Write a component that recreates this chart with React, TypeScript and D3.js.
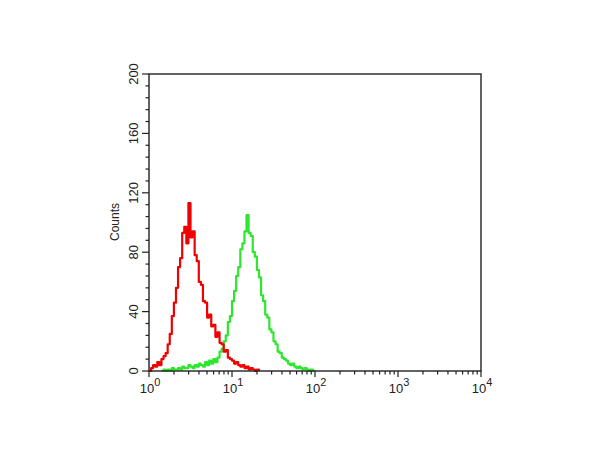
import React, { useEffect, useRef } from 'react';
import * as d3 from 'd3';

// histogram bins in log10 units, 0.025 decade wide
const binWidth = 0.025;
const redStart = 0.0;
const redCounts = [
  0, 2, 4, 3, 6, 4, 8, 10, 12, 18, 25, 37, 46, 56, 70, 76, 93, 97, 86, 113,
  90, 94, 78, 74, 60, 58, 47, 46, 36, 38, 30, 31, 23, 26, 19, 18, 13, 14, 9, 8,
  7, 5, 6, 4, 3, 4, 2, 3, 1, 2, 1, 0, 1, 0,
];
const greenStart = 0.15;
const greenCounts = [
  0, 1, 0, 1, 0, 2, 1, 1, 2, 1, 3, 2, 2, 4, 3, 2, 4, 3, 5, 4,
  3, 6, 4, 7, 5, 8, 6, 9, 13, 15, 20, 24, 33, 37, 47, 54, 64, 70, 82, 86,
  94, 105, 93, 91, 80, 77, 68, 63, 51, 47, 38, 36, 28, 26, 20, 18, 13, 12, 9, 8,
  7, 5, 4, 5, 3, 2, 3, 2, 1, 2, 1, 0, 1, 0, 0,
];
const yMajorTicks = [0, 40, 80, 120, 160, 200];
const xDecades = [0, 1, 2, 3, 4];

const App: React.FC = () => {
  const svgRef = useRef<SVGSVGElement>(null);

  useEffect(() => {
    if (!svgRef.current) return;
    const svg = d3.select(svgRef.current);
    svg.selectAll('*').remove();

    const left = 149, right = 481, top = 74, bottom = 371;
    const x = d3.scaleLog().domain([1, 10000]).range([left, right]);
    const y = d3.scaleLinear().domain([0, 200]).range([bottom, top]);
    const font = '"Liberation Sans", Arial, sans-serif';
    const ink = '#222';

    // series
    const drawSeries = (start: number, counts: number[], color: string) => {
      const pts: [number, number][] = counts.map((c, i) => [Math.pow(10, start + i * binWidth), c]);
      const line = d3.line<[number, number]>()
        .x(d => x(d[0]))
        .y(d => y(d[1]))
        .curve(d3.curveStepAfter);
      svg.append('path')
        .attr('d', line(pts))
        .attr('fill', 'none')
        .attr('stroke', color)
        .attr('stroke-width', 2.2)
        .attr('stroke-linejoin', 'round');
    };
    drawSeries(greenStart, greenCounts, '#2ee62e');
    drawSeries(redStart, redCounts, '#f00000');

    // frame
    svg.append('rect')
      .attr('x', left).attr('y', top)
      .attr('width', right - left).attr('height', bottom - top)
      .attr('fill', 'none').attr('stroke', ink).attr('stroke-width', 1.4);

    // y ticks
    const yMinor = d3.range(0, 201, 8);
    svg.append('g').selectAll('line').data(yMinor).enter().append('line')
      .attr('x1', d => left - (yMajorTicks.includes(d) ? 7 : 3.5))
      .attr('x2', left)
      .attr('y1', d => y(d)).attr('y2', d => y(d))
      .attr('stroke', ink).attr('stroke-width', 1.2);

    svg.append('g').selectAll('text').data(yMajorTicks).enter().append('text')
      .attr('transform', d => `translate(133,${y(d)}) rotate(-90)`)
      .attr('text-anchor', 'middle')
      .attr('dominant-baseline', 'central')
      .style('font-family', font).style('font-size', '13px').attr('fill', ink)
      .text(d => d);

    svg.append('text')
      .attr('transform', 'translate(115,222) rotate(-90)')
      .attr('text-anchor', 'middle')
      .attr('dominant-baseline', 'central')
      .style('font-family', font).style('font-size', '12px').attr('fill', ink)
      .text('Counts');

    // x ticks
    const xTicks: { v: number; major: boolean }[] = [];
    xDecades.forEach(e => {
      xTicks.push({ v: Math.pow(10, e), major: true });
      if (e < 4) for (let m = 2; m <= 9; m++) xTicks.push({ v: m * Math.pow(10, e), major: false });
    });
    svg.append('g').selectAll('line').data(xTicks).enter().append('line')
      .attr('x1', d => x(d.v)).attr('x2', d => x(d.v))
      .attr('y1', bottom).attr('y2', d => bottom + (d.major ? 6 : 3.5))
      .attr('stroke', ink).attr('stroke-width', 1.2);

    const xl = svg.append('g').selectAll('text').data(xDecades).enter().append('text')
      .attr('x', d => x(Math.pow(10, d)) + 1)
      .attr('y', 393)
      .attr('text-anchor', 'middle')
      .style('font-family', font).style('font-size', '13px').attr('fill', ink);
    xl.append('tspan').text('10');
    xl.append('tspan').attr('dy', -7).style('font-size', '11px').text(d => d);
  }, []);

  return (
    <svg
      ref={svgRef}
      width={600}
      height={450}
      style={{ position: 'absolute', left: 0, top: 0, background: '#fff' }}
    />
  );
};

export default App;
